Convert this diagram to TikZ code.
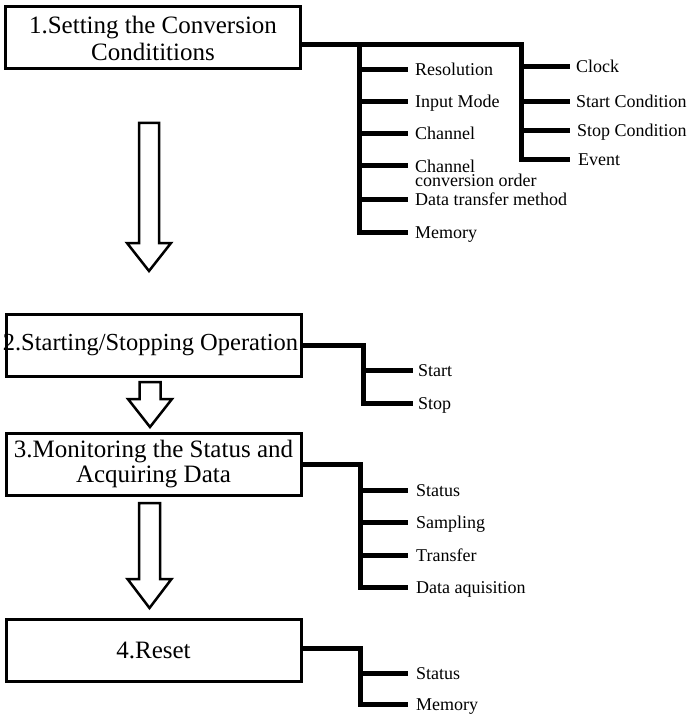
\documentclass[tikz,border=0pt]{standalone}
\usepackage{fontspec}
\setmainfont{Liberation Serif}
\begin{document}
\begin{tikzpicture}[x=1pt,y=-1pt,
  box/.style={draw, line width=3pt, minimum width=295pt, minimum height=62pt, inner sep=0pt, align=center, font=\fontsize{25}{27}\selectfont},
  lbl/.style={anchor=west, inner xsep=7pt, inner ysep=0pt, text height=12pt, text depth=0pt, font=\fontsize{18}{15}\selectfont},
  tree/.style={line width=5pt, line join=miter},
  harrow/.style={draw, line width=2.5pt, fill=white, line join=miter}]
\useasboundingbox (0,0) rectangle (692,714);

% boxes
\node[box] (b1) at (153,38) {1.Setting the Conversion\\Condititions};
\node[box, font=\fontsize{24.5}{27}\selectfont] (b2) at (153.5,345) {\makebox[0pt][c]{\hspace*{-6pt}2.Starting/Stopping Operation}};
\node[box, font=\fontsize{25}{25.5}\selectfont] (b3) at (153.5,464) {3.Monitoring the Status and\\Acquiring Data};
\node[box] (b4) at (153.5,650.5) {4.Reset};

% hollow arrows
\draw[harrow] (139,123) -- (159,123) -- (159,243) -- (171,243) -- (149,271) -- (127,243) -- (139,243) -- cycle;
\draw[harrow] (139.5,382) -- (160.5,382) -- (160.5,399) -- (172,399) -- (150,427) -- (128,399) -- (139.5,399) -- cycle;
\draw[harrow] (139,503) -- (160,503) -- (160,579) -- (171.5,579) -- (149.5,608) -- (127.5,579) -- (139,579) -- cycle;

% labels of step 1
\node[lbl] (res) at (408,70) {Resolution};
\node[lbl] (inm) at (408,102) {Input Mode};
\node[lbl] (chn) at (408,134) {Channel};
\node[anchor=north west, inner xsep=7pt, inner ysep=0pt, align=left, font=\fontsize{18}{14}\selectfont] (cco) at (408,159.5) {Channel\\conversion order};
\coordinate (ccoend) at (408,166);
\node[lbl] (dtm) at (408,199) {Data transfer method};
\node[lbl] (mem1) at (408,232) {Memory};
\node[lbl, inner xsep=6pt] (clk) at (570,67) {Clock};
\node[lbl, inner xsep=6pt] (stc) at (570,102) {Start Condition};
\node[lbl, inner xsep=7pt] (spc) at (570,131) {Stop Condition};
\node[lbl, inner xsep=8pt] (evt) at (570,160) {Event};

\coordinate (j1) at (359,45);
\coordinate (j2) at (521,45);
\draw[tree] (b1.east |- j1) -- (j2) -- (j2 |- evt.west) -- (evt.west);
\draw[tree] (j1) -- (j1 |- mem1.west) -- (mem1.west);
\foreach \n in {res,inm,chn,dtm} \draw[tree] (j1 |- \n.west) -- (\n.west);
\draw[tree] (j1 |- ccoend) -- (ccoend);
\foreach \n in {clk,stc,spc} \draw[tree] (j2 |- \n.west) -- (\n.west);

% step 2
\node[lbl, inner xsep=5pt] (sta) at (413,370) {Start};
\node[lbl, inner xsep=5pt] (sto) at (413,403) {Stop};
\coordinate (k1) at (363,345);
\draw[tree] (b2.east |- k1) -- (k1) -- (k1 |- sto.west) -- (sto.west);
\draw[tree] (k1 |- sta.west) -- (sta.west);

% step 3
\node[lbl, inner xsep=8pt] (st3) at (408,490) {Status};
\node[lbl, inner xsep=8pt] (smp) at (408,522) {Sampling};
\node[lbl, inner xsep=8pt] (trf) at (408,555) {Transfer};
\node[lbl, inner xsep=8pt] (daq) at (408,587) {Data aquisition};
\coordinate (k3) at (360,464);
\draw[tree] (b3.east |- k3) -- (k3) -- (k3 |- daq.west) -- (daq.west);
\foreach \n in {st3,smp,trf} \draw[tree] (k3 |- \n.west) -- (\n.west);

% step 4
\node[lbl, inner xsep=8pt] (st4) at (408,673) {Status};
\node[lbl, inner xsep=8pt] (mem4) at (408,704) {Memory};
\coordinate (k4) at (360,648);
\draw[tree] (b4.east |- k4) -- (k4) -- (k4 |- mem4.west) -- (mem4.west);
\draw[tree] (k4 |- st4.west) -- (st4.west);
\end{tikzpicture}
\end{document}
